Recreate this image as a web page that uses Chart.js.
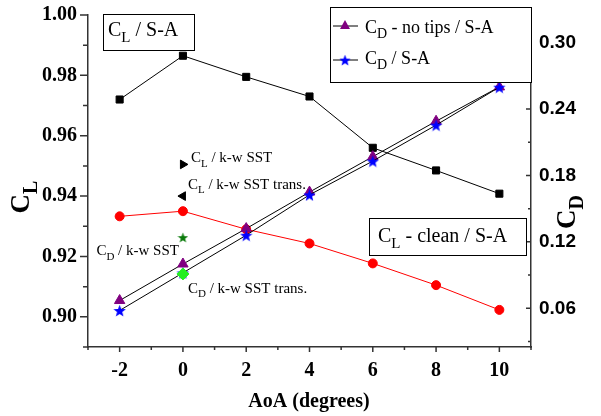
<!DOCTYPE html>
<html>
<head>
<meta charset="utf-8">
<script src="https://cdn.jsdelivr.net/npm/chart.js@4/dist/chart.umd.min.js"></script>
<style>
body { margin: 0; background: #fff; }
</style>
</head>
<body>
<canvas id="chart" width="601" height="416"></canvas>
<script>
// angle of attack (degrees)
var aoa = [-2, 0, 2, 4, 6, 8, 10];
// lift coefficient, left axis
var clSA = [0.972, 0.9865, 0.9795, 0.973, 0.956, 0.9485, 0.9408];
var clClean = [0.9333, 0.9350, 0.929, 0.9243, 0.9177, 0.9105, 0.9023];
// drag coefficient, right axis
var cdNoTips = [0.067, 0.100, 0.132, 0.165, 0.197, 0.229, 0.260];
var cdSA = [0.058, 0.092, 0.126, 0.1625, 0.193, 0.2255, 0.2598];
// single k-w SST runs at 0 degrees
var kwAoa = 0;
var clKwSST = 0.9505;
var clKwTrans = 0.940;
var cdKwSST = 0.124;
var cdKwTrans = 0.091;

var xTicks = [-2, 0, 2, 4, 6, 8, 10];
var xTickLabels = ['-2', '0', '2', '4', '6', '8', '10'];
var clTicks = [0.90, 0.92, 0.94, 0.96, 0.98, 1.00];
var clTickLabels = ['0.90', '0.92', '0.94', '0.96', '0.98', '1.00'];
var cdTicks = [0.06, 0.12, 0.18, 0.24, 0.30];
var cdTickLabels = ['0.06', '0.12', '0.18', '0.24', '0.30'];

var SERIF = "'Liberation Serif', 'Times New Roman', serif";
var SANS = "'Liberation Sans', Arial, sans-serif";

function makeStar(color, d) {
    var c = document.createElement('canvas');
    c.width = d; c.height = d;
    var g = c.getContext('2d');
    var R = d / 2, r = R * 0.42, cx = d / 2, cy = d / 2 + R * 0.1;
    g.fillStyle = color;
    g.beginPath();
    for (var i = 0; i < 10; i++) {
        var rad = i % 2 ? r : R;
        var ang = -Math.PI / 2 + i * Math.PI / 5;
        g.lineTo(cx + rad * Math.cos(ang), cy + rad * Math.sin(ang));
    }
    g.closePath();
    g.fill();
    return c;
}
var blueStar = makeStar('#0000ff', 13);
var greenStar = makeStar('#0a7a0a', 11);

function pts(xs, ys) {
    return xs.map(function(x, i) { return { x: x, y: ys[i] }; });
}

// text like C<sub>L</sub> / S-A
function subText(ctx, x, y, base, sub, rest, size, family, weight) {
    var w = weight ? weight + ' ' : '';
    ctx.font = w + size + 'px ' + family;
    ctx.fillText(base, x, y);
    x += ctx.measureText(base).width;
    var s = Math.round(size * 0.75);
    ctx.font = w + s + 'px ' + family;
    ctx.fillText(sub, x, y + size * 0.28);
    x += ctx.measureText(sub).width;
    ctx.font = w + size + 'px ' + family;
    ctx.fillText(rest, x, y);
}
function subWidth(ctx, base, sub, rest, size, family, weight) {
    var w = weight ? weight + ' ' : '';
    ctx.font = w + size + 'px ' + family;
    var t = ctx.measureText(base).width + ctx.measureText(rest).width;
    ctx.font = w + Math.round(size * 0.75) + 'px ' + family;
    return t + ctx.measureText(sub).width;
}

var decorations = {
    id: 'decorations',
    afterDraw: function(chart) {
        var ctx = chart.ctx, a = chart.chartArea;
        var sx = chart.scales.x, sy = chart.scales.y, sr = chart.scales.yR;
        ctx.save();

        // tick marks, major and minor
        ctx.strokeStyle = '#333';
        ctx.lineWidth = 1.5;
        ctx.beginPath();
        for (var v = -3; v <= 11; v++) {
            var px = sx.getPixelForValue(v);
            var len = (v % 2 === 0) ? 5 : 3;
            ctx.moveTo(px, a.bottom); ctx.lineTo(px, a.bottom + len);
        }
        for (var k = 89; k <= 100; k++) {
            var py = sy.getPixelForValue(k / 100);
            var l2 = (k % 2 === 0) ? 8 : 5;
            ctx.moveTo(a.left - l2, py); ctx.lineTo(a.left, py);
        }
        for (var j = 1; j <= 10; j++) {
            var pr = sr.getPixelForValue(j * 0.03);
            var l3 = (j % 2 === 0) ? 5 : 3;
            ctx.moveTo(a.right - l3, pr); ctx.lineTo(a.right, pr);
        }
        ctx.stroke();

        ctx.fillStyle = '#000';
        ctx.textBaseline = 'alphabetic';

        // axis titles
        ctx.textAlign = 'left';
        var w = subWidth(ctx, 'C', 'L', '', 27, SERIF, 'bold');
        ctx.save();
        ctx.translate(29, 197);
        ctx.rotate(-Math.PI / 2);
        subText(ctx, -w / 2, 0, 'C', 'L', '', 27, SERIF, 'bold');
        ctx.restore();

        w = subWidth(ctx, 'C', 'D', '', 27, SERIF, 'bold');
        ctx.save();
        ctx.translate(575, 212);
        ctx.rotate(-Math.PI / 2);
        subText(ctx, -w / 2, 0, 'C', 'D', '', 27, SERIF, 'bold');
        ctx.restore();

        ctx.font = 'bold 20px ' + SERIF;
        ctx.textAlign = 'center';
        ctx.fillText('AoA (degrees)', 309, 407);
        ctx.textAlign = 'left';

        // boxed captions
        ctx.strokeStyle = '#000';
        ctx.lineWidth = 1;
        ctx.fillStyle = '#fff';
        ctx.fillRect(103.5, 14.5, 91, 36);
        ctx.strokeRect(103.5, 14.5, 91, 36);
        ctx.fillRect(369.5, 218.5, 157, 37);
        ctx.strokeRect(369.5, 218.5, 157, 37);
        ctx.fillStyle = '#000';
        subText(ctx, 108, 36, 'C', 'L', ' / S-A', 20, SERIF);
        subText(ctx, 378, 242, 'C', 'L', ' - clean / S-A', 20, SERIF);

        // legend
        ctx.fillStyle = '#fff';
        ctx.fillRect(330.5, 7.5, 201, 75);
        ctx.strokeRect(330.5, 7.5, 201, 75);
        ctx.beginPath();
        ctx.moveTo(333, 26); ctx.lineTo(358, 26);
        ctx.moveTo(333, 60); ctx.lineTo(358, 60);
        ctx.stroke();
        ctx.fillStyle = '#800080';
        ctx.beginPath();
        ctx.moveTo(345, 20); ctx.lineTo(350, 29); ctx.lineTo(340, 29);
        ctx.closePath();
        ctx.fill();
        ctx.drawImage(blueStar, 345 - 6, 60 - 6, 12, 12);
        ctx.fillStyle = '#000';
        subText(ctx, 365, 33, 'C', 'D', ' - no tips / S-A', 18, SERIF);
        subText(ctx, 365, 64, 'C', 'D', ' / S-A', 18, SERIF);

        // notes beside the k-w SST points
        var x0 = sx.getPixelForValue(kwAoa);
        subText(ctx, x0 + 8, sy.getPixelForValue(clKwSST) - 2, 'C', 'L', ' / k-w SST', 15, SERIF);
        subText(ctx, x0 + 5, sy.getPixelForValue(clKwTrans) - 7, 'C', 'L', ' / k-w SST trans.', 15, SERIF);
        var wk = subWidth(ctx, 'C', 'D', ' / k-w SST', 15, SERIF);
        subText(ctx, x0 - 4 - wk, sr.getPixelForValue(cdKwSST) + 18, 'C', 'D', ' / k-w SST', 15, SERIF);
        subText(ctx, x0 + 5, sr.getPixelForValue(cdKwTrans) + 19, 'C', 'D', ' / k-w SST trans.', 15, SERIF);

        ctx.restore();
    }
};

var ctx = document.getElementById('chart').getContext('2d');
var chart = new Chart(ctx, {
    type: 'scatter',
    data: {
        datasets: [
            {
                label: 'CD / k-w SST trans.',
                data: pts([kwAoa], [cdKwTrans]),
                yAxisID: 'yR',
                pointStyle: 'rectRot',
                pointRadius: 6,
                backgroundColor: '#22ee22',
                borderColor: '#22ee22',
                order: 0
            },
            {
                label: 'CD / S-A',
                data: pts(aoa, cdSA),
                yAxisID: 'yR',
                showLine: true,
                borderColor: '#000',
                borderWidth: 1,
                pointStyle: blueStar,
                order: 1
            },
            {
                label: 'CD - no tips / S-A',
                data: pts(aoa, cdNoTips),
                yAxisID: 'yR',
                showLine: true,
                borderColor: '#000',
                borderWidth: 1,
                pointStyle: 'triangle',
                pointRadius: 6,
                pointBackgroundColor: '#800080',
                pointBorderColor: '#800080',
                order: 2
            },
            {
                label: 'CD / k-w SST',
                data: pts([kwAoa], [cdKwSST]),
                yAxisID: 'yR',
                pointStyle: greenStar,
                order: 3
            },
            {
                label: 'CL / k-w SST',
                data: pts([kwAoa], [clKwSST]),
                yAxisID: 'y',
                pointStyle: 'triangle',
                rotation: 90,
                pointRadius: 5,
                backgroundColor: '#000',
                borderColor: '#000',
                order: 4
            },
            {
                label: 'CL / k-w SST trans.',
                data: pts([kwAoa], [clKwTrans]),
                yAxisID: 'y',
                pointStyle: 'triangle',
                rotation: -90,
                pointRadius: 5,
                backgroundColor: '#000',
                borderColor: '#000',
                order: 5
            },
            {
                label: 'CL - clean / S-A',
                data: pts(aoa, clClean),
                yAxisID: 'y',
                showLine: true,
                borderColor: '#ff0000',
                borderWidth: 1,
                pointStyle: 'circle',
                pointRadius: 4.5,
                pointBackgroundColor: '#ff0000',
                pointBorderColor: '#ff0000',
                order: 6
            },
            {
                label: 'CL / S-A',
                data: pts(aoa, clSA),
                yAxisID: 'y',
                showLine: true,
                borderColor: '#000',
                borderWidth: 1,
                pointStyle: 'rect',
                pointRadius: 5,
                pointBackgroundColor: '#000',
                pointBorderColor: '#000',
                order: 7
            }
        ]
    },
    options: {
        responsive: false,
        animation: false,
        layout: { padding: { top: 5, left: 0, right: 0, bottom: 0 } },
        plugins: {
            legend: { display: false },
            tooltip: { enabled: false }
        },
        scales: {
            x: {
                type: 'linear',
                min: -3,
                max: 11,
                grid: { display: false },
                border: { display: true, color: '#333', width: 1.5 },
                ticks: {
                    padding: 4,
                    color: '#000',
                    font: { family: SERIF, size: 20, weight: 'bold' },
                    callback: function(v) { var i = xTicks.indexOf(v); return i < 0 ? '' : xTickLabels[i]; }
                },
                afterBuildTicks: function(s) { s.ticks = xTicks.map(function(v) { return { value: v }; }); },
                afterFit: function(s) { s.height = 69; }
            },
            y: {
                position: 'left',
                min: 0.89,
                max: 1.0,
                grid: { display: false },
                border: { display: true, color: '#333', width: 1.5 },
                ticks: {
                    padding: 3,
                    color: '#000',
                    font: { family: SERIF, size: 20, weight: 'bold' },
                    callback: function(v) {
                        for (var i = 0; i < clTicks.length; i++) if (Math.abs(clTicks[i] - v) < 1e-6) return clTickLabels[i];
                        return '';
                    }
                },
                afterBuildTicks: function(s) { s.ticks = clTicks.map(function(v) { return { value: v }; }); },
                afterFit: function(s) { s.width = 88; }
            },
            yR: {
                position: 'right',
                min: 0.025,
                max: 0.325,
                grid: { display: false },
                border: { display: true, color: '#333', width: 1.5 },
                ticks: {
                    padding: 0,
                    color: '#000',
                    font: { family: SANS, size: 19, weight: 'bold' },
                    callback: function(v) {
                        for (var i = 0; i < cdTicks.length; i++) if (Math.abs(cdTicks[i] - v) < 1e-6) return cdTickLabels[i];
                        return '';
                    }
                },
                afterBuildTicks: function(s) { s.ticks = cdTicks.map(function(v) { return { value: v }; }); },
                afterFit: function(s) { s.width = 70; }
            }
        }
    },
    plugins: [decorations]
});
</script>
</body>
</html>
